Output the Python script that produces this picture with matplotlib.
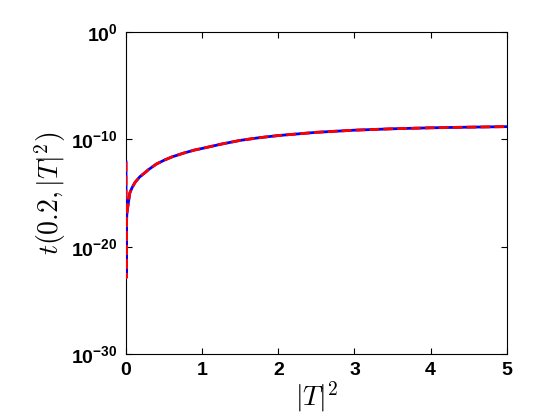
import numpy as np
import matplotlib.pyplot as plt
from matplotlib.ticker import FixedLocator, NullLocator

# values (y given as log10)
x_vals = [0.0, 0.002, 0.006, 0.012, 0.025, 0.05, 0.08, 0.12, 0.18, 0.25, 0.3,
          0.4, 0.5, 0.6, 0.75, 0.9, 1.0, 1.25, 1.5, 1.75, 2.0, 2.5, 3.0, 3.5,
          4.0, 4.5, 5.0]
log_blue = [-12.1, -22.9, -17.8, -16.9, -16.2, -15.0, -14.5, -14.0, -13.5, -13.1, -12.8,
            -12.3, -11.95, -11.65, -11.3, -11.0, -10.85, -10.45, -10.1, -9.85,
            -9.65, -9.35, -9.15, -9.02, -8.93, -8.87, -8.82]
log_red = [-12.1, -22.9, -17.8, -16.9, -16.2, -15.0, -14.5, -14.0, -13.5, -13.1, -12.8,
           -12.3, -11.95, -11.65, -11.3, -11.0, -10.85, -10.45, -10.1, -9.85,
           -9.65, -9.35, -9.15, -9.02, -8.93, -8.87, -8.82]
y_ticks = [1e-30, 1e-20, 1e-10, 1e0]
y_ticklabels = [r'$10^{-30}$', r'$10^{-20}$', r'$10^{-10}$', r'$10^{0}$']

plt.rcParams['mathtext.fontset'] = 'custom'
plt.rcParams['mathtext.rm'] = 'Liberation Sans:bold'
plt.rcParams['mathtext.it'] = 'Liberation Sans:bold'
plt.rcParams['mathtext.bf'] = 'Liberation Sans:bold'
plt.rcParams['font.family'] = 'Liberation Sans'

fig = plt.figure(figsize=(5.6, 4.2), dpi=100)
ax = fig.add_axes([0.225, 0.157, 0.68, 0.767])

ax.semilogy(x_vals, 10.0 ** np.array(log_blue), color='#0000ff', lw=2, zorder=3)
ax.semilogy(x_vals, 10.0 ** np.array(log_red), color='#ff0000', lw=2,
            ls=(0, (3.5, 1.5)), zorder=4)

ax.set_xlim(0, 5)
ax.set_ylim(1e-30, 1e0)
ax.yaxis.set_major_locator(FixedLocator(y_ticks))
ax.yaxis.set_minor_locator(NullLocator())
ax.set_yticklabels(y_ticklabels)
ax.set_xticks(range(6))

ax.tick_params(direction='in', top=True, right=True, length=4, width=0.8,
               labelsize=14, pad=6)
for lab in ax.get_xticklabels():
    lab.set_fontweight('bold')

ax.set_xlabel(r'$|T|^2$', fontsize=20, math_fontfamily='cm', labelpad=0)
ax.set_ylabel(r'$t(0.2,|T|^2)$', fontsize=20, math_fontfamily='cm', labelpad=2)

fig.savefig('out.png', dpi=100)
